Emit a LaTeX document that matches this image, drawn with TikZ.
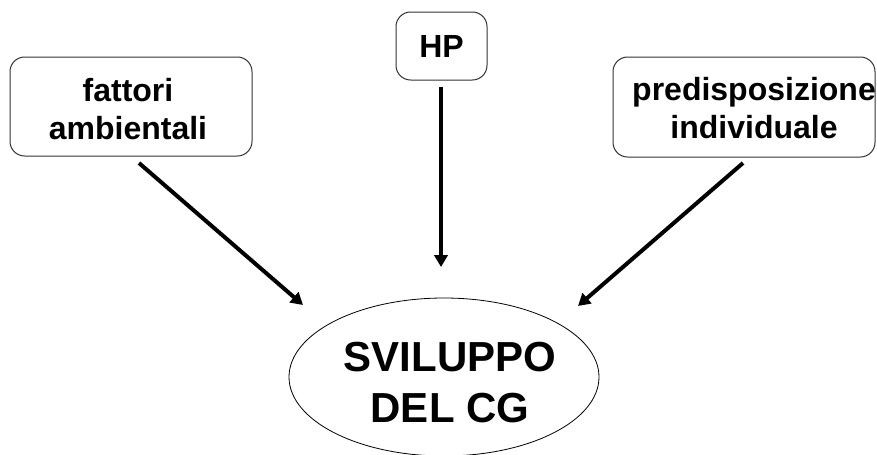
\documentclass[tikz,border=0pt]{standalone}
\usepackage{fontspec}
\setmainfont{Liberation Sans}
\usetikzlibrary{arrows.meta,shapes.geometric}
\begin{document}
\begin{tikzpicture}[x=0.75pt,y=-0.75pt,
  factor/.style={draw=black!80,line width=0.75pt,rounded corners=11pt,inner sep=0pt},
  factortext/.style={font=\fontsize{24}{28.5}\selectfont\bfseries,align=center,inner sep=0pt},
  goaltext/.style={font=\fontsize{31.5}{38.25}\selectfont\bfseries,align=center,inner sep=0pt},
  flow/.style={line width=3pt,-{Triangle[length=9pt,width=10pt]}}]
\useasboundingbox (0,0) rectangle (877,454);

% influencing factors
\node[factor,minimum width=181.5pt,minimum height=74.25pt] (amb) at (131,106.5) {};
\node[factortext] (ambtxt) at (128,109.5) {fattori\\ambientali};

\node[factor,minimum width=68.25pt,minimum height=51pt] (hp) at (441.5,46) {};
\node[factortext] (hptxt) at (441.5,46) {HP};

\node[factor,minimum width=196.5pt,minimum height=75pt] (pre) at (744,107) {};
\node[factortext] (pretxt) at (754,108.5) {predisposizione\\individuale};

% outcome
\node[draw,ellipse,line width=0.6pt,minimum width=232.5pt,minimum height=118.5pt,inner sep=0pt] (cg) at (444,377) {};
\node[goaltext] (cgtxt) at (450,383) {SVILUPPO\\DEL CG};

% arrows
\coordinate (ambout) at (139,163);
\coordinate (ambin) at (303,305);
\coordinate (hpout) at (441,87);
\coordinate (hpin) at (441,267);
\coordinate (preout) at (743,163);
\coordinate (prein) at (578,306);

\draw[flow] (ambout) -- (ambin);
\draw[flow] (hpout) -- (hpin);
\draw[flow] (preout) -- (prein);
\end{tikzpicture}
\end{document}
